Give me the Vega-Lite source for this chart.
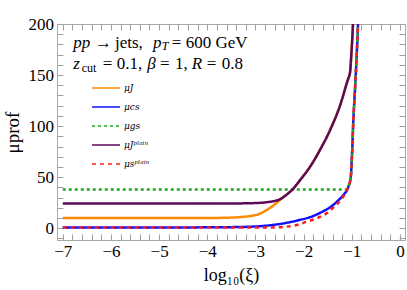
{
  "$schema": "https://vega.github.io/schema/vega-lite/v6.json",
  "width": 348,
  "height": 216,
  "autosize": {"type": "none"},
  "padding": {"left": 57, "top": 24, "right": 2, "bottom": 50},
  "background": "white",
  "config": {
    "view": {"stroke": "#a8a8a8", "strokeWidth": 1},
    "font": "Liberation Serif",
    "text": {"font": "Liberation Serif", "fontSize": 17, "align": "left", "baseline": "alphabetic", "color": "black"},
    "axis": {
      "grid": false,
      "domain": false,
      "ticks": true,
      "tickColor": "#a0a0a0",
      "tickWidth": 1,
      "tickSize": -6,
      "labelFont": "Liberation Serif",
      "labelFontSize": 17,
      "labelColor": "black",
      "titleFont": "Liberation Serif",
      "titleFontWeight": "normal",
      "titleColor": "black"
    }
  },
  "datasets": {
    "curves": [
      {"series": "μJ", "log_xi": -7, "mu": 10},
      {"series": "μJ", "log_xi": -6, "mu": 10},
      {"series": "μJ", "log_xi": -5, "mu": 10},
      {"series": "μJ", "log_xi": -4, "mu": 10.05},
      {"series": "μJ", "log_xi": -3.6, "mu": 10.3},
      {"series": "μJ", "log_xi": -3.3, "mu": 11},
      {"series": "μJ", "log_xi": -3.1, "mu": 12},
      {"series": "μJ", "log_xi": -2.95, "mu": 13.5},
      {"series": "μJ", "log_xi": -2.8, "mu": 17},
      {"series": "μJ", "log_xi": -2.65, "mu": 21.5},
      {"series": "μJ", "log_xi": -2.52, "mu": 26.5},
      {"series": "μJ", "log_xi": -2.45, "mu": 29.5},
      {"series": "μJ", "log_xi": -2.3, "mu": 35},
      {"series": "μJ", "log_xi": -2.23, "mu": 38},
      {"series": "μJ", "log_xi": -2.15, "mu": 42.5},
      {"series": "μJ", "log_xi": -2.07, "mu": 47.3},
      {"series": "μJ", "log_xi": -1.865, "mu": 60.3},
      {"series": "μJ", "log_xi": -1.66, "mu": 76.7},
      {"series": "μJ", "log_xi": -1.45, "mu": 96.2},
      {"series": "μJ", "log_xi": -1.24, "mu": 120.7},
      {"series": "μJ", "log_xi": -1.07, "mu": 146.9},
      {"series": "μJ", "log_xi": -1.05, "mu": 149.5},
      {"series": "μJ", "log_xi": -1.035, "mu": 153},
      {"series": "μJ", "log_xi": -1.008, "mu": 171},
      {"series": "μJ", "log_xi": -0.975, "mu": 200},
      {"series": "μJ", "log_xi": -0.965, "mu": 212},

      {"series": "μcs", "log_xi": -7, "mu": 0.8},
      {"series": "μcs", "log_xi": -5, "mu": 0.8},
      {"series": "μcs", "log_xi": -4, "mu": 0.9},
      {"series": "μcs", "log_xi": -3.5, "mu": 1.1},
      {"series": "μcs", "log_xi": -3.18, "mu": 1.4},
      {"series": "μcs", "log_xi": -2.83, "mu": 2.3},
      {"series": "μcs", "log_xi": -2.49, "mu": 4.2},
      {"series": "μcs", "log_xi": -2.14, "mu": 7.5},
      {"series": "μcs", "log_xi": -1.8, "mu": 12},
      {"series": "μcs", "log_xi": -1.6, "mu": 16.5},
      {"series": "μcs", "log_xi": -1.45, "mu": 20.5},
      {"series": "μcs", "log_xi": -1.31, "mu": 26},
      {"series": "μcs", "log_xi": -1.174, "mu": 32.6},
      {"series": "μcs", "log_xi": -1.07, "mu": 40.7},
      {"series": "μcs", "log_xi": -1.02, "mu": 50.5},
      {"series": "μcs", "log_xi": -0.994, "mu": 73.4},
      {"series": "μcs", "log_xi": -0.967, "mu": 106},
      {"series": "μcs", "log_xi": -0.93, "mu": 138.6},
      {"series": "μcs", "log_xi": -0.896, "mu": 171},
      {"series": "μcs", "log_xi": -0.87, "mu": 200},
      {"series": "μcs", "log_xi": -0.86, "mu": 212},

      {"series": "μgs", "log_xi": -7, "mu": 38},
      {"series": "μgs", "log_xi": -4, "mu": 38},
      {"series": "μgs", "log_xi": -1.12, "mu": 38},
      {"series": "μgs", "log_xi": -1.07, "mu": 40.7},
      {"series": "μgs", "log_xi": -1.02, "mu": 50.5},
      {"series": "μgs", "log_xi": -0.994, "mu": 73.4},
      {"series": "μgs", "log_xi": -0.967, "mu": 106},
      {"series": "μgs", "log_xi": -0.93, "mu": 138.6},
      {"series": "μgs", "log_xi": -0.896, "mu": 171},
      {"series": "μgs", "log_xi": -0.87, "mu": 200},
      {"series": "μgs", "log_xi": -0.86, "mu": 212},

      {"series": "μJᵖˡᵃⁱⁿ", "log_xi": -7, "mu": 24.2},
      {"series": "μJᵖˡᵃⁱⁿ", "log_xi": -5, "mu": 24.2},
      {"series": "μJᵖˡᵃⁱⁿ", "log_xi": -4, "mu": 24.2},
      {"series": "μJᵖˡᵃⁱⁿ", "log_xi": -3.4, "mu": 24.3},
      {"series": "μJᵖˡᵃⁱⁿ", "log_xi": -3.0, "mu": 24.7},
      {"series": "μJᵖˡᵃⁱⁿ", "log_xi": -2.8, "mu": 25.3},
      {"series": "μJᵖˡᵃⁱⁿ", "log_xi": -2.65, "mu": 26.3},
      {"series": "μJᵖˡᵃⁱⁿ", "log_xi": -2.52, "mu": 27.8},
      {"series": "μJᵖˡᵃⁱⁿ", "log_xi": -2.45, "mu": 29.5},
      {"series": "μJᵖˡᵃⁱⁿ", "log_xi": -2.3, "mu": 35},
      {"series": "μJᵖˡᵃⁱⁿ", "log_xi": -2.23, "mu": 38},
      {"series": "μJᵖˡᵃⁱⁿ", "log_xi": -2.15, "mu": 42.5},
      {"series": "μJᵖˡᵃⁱⁿ", "log_xi": -2.07, "mu": 47.3},
      {"series": "μJᵖˡᵃⁱⁿ", "log_xi": -1.865, "mu": 60.3},
      {"series": "μJᵖˡᵃⁱⁿ", "log_xi": -1.66, "mu": 76.7},
      {"series": "μJᵖˡᵃⁱⁿ", "log_xi": -1.45, "mu": 96.2},
      {"series": "μJᵖˡᵃⁱⁿ", "log_xi": -1.24, "mu": 120.7},
      {"series": "μJᵖˡᵃⁱⁿ", "log_xi": -1.07, "mu": 146.9},
      {"series": "μJᵖˡᵃⁱⁿ", "log_xi": -1.05, "mu": 149.5},
      {"series": "μJᵖˡᵃⁱⁿ", "log_xi": -1.035, "mu": 153},
      {"series": "μJᵖˡᵃⁱⁿ", "log_xi": -1.008, "mu": 171},
      {"series": "μJᵖˡᵃⁱⁿ", "log_xi": -0.975, "mu": 200},
      {"series": "μJᵖˡᵃⁱⁿ", "log_xi": -0.965, "mu": 212},

      {"series": "μsᵖˡᵃⁱⁿ", "log_xi": -7, "mu": 0.8},
      {"series": "μsᵖˡᵃⁱⁿ", "log_xi": -5, "mu": 0.8},
      {"series": "μsᵖˡᵃⁱⁿ", "log_xi": -3, "mu": 0.8},
      {"series": "μsᵖˡᵃⁱⁿ", "log_xi": -2.57, "mu": 0.9},
      {"series": "μsᵖˡᵃⁱⁿ", "log_xi": -2.35, "mu": 1.6},
      {"series": "μsᵖˡᵃⁱⁿ", "log_xi": -2.14, "mu": 3.2},
      {"series": "μsᵖˡᵃⁱⁿ", "log_xi": -1.93, "mu": 6.5},
      {"series": "μsᵖˡᵃⁱⁿ", "log_xi": -1.72, "mu": 9.8},
      {"series": "μsᵖˡᵃⁱⁿ", "log_xi": -1.52, "mu": 14.7},
      {"series": "μsᵖˡᵃⁱⁿ", "log_xi": -1.38, "mu": 20.5},
      {"series": "μsᵖˡᵃⁱⁿ", "log_xi": -1.228, "mu": 27.7},
      {"series": "μsᵖˡᵃⁱⁿ", "log_xi": -1.118, "mu": 35.8},
      {"series": "μsᵖˡᵃⁱⁿ", "log_xi": -1.07, "mu": 40.7},
      {"series": "μsᵖˡᵃⁱⁿ", "log_xi": -1.02, "mu": 50.5},
      {"series": "μsᵖˡᵃⁱⁿ", "log_xi": -0.994, "mu": 73.4},
      {"series": "μsᵖˡᵃⁱⁿ", "log_xi": -0.967, "mu": 106},
      {"series": "μsᵖˡᵃⁱⁿ", "log_xi": -0.93, "mu": 138.6},
      {"series": "μsᵖˡᵃⁱⁿ", "log_xi": -0.896, "mu": 171},
      {"series": "μsᵖˡᵃⁱⁿ", "log_xi": -0.87, "mu": 200},
      {"series": "μsᵖˡᵃⁱⁿ", "log_xi": -0.86, "mu": 212}
    ]
  },
  "layer": [
    {
      "data": {"name": "curves"},
      "mark": {"type": "line", "clip": true, "strokeWidth": 2.5, "interpolate": "monotone"},
      "encoding": {
        "x": {
          "field": "log_xi",
          "type": "quantitative",
          "scale": {"domain": [-7.12, 0.105], "nice": false, "zero": false},
          "axis": {
            "orient": "bottom",
            "title": "log₁₀(ξ)",
            "titleFontSize": 18,
            "titlePadding": 7,
            "values": [-7,-6.8,-6.6,-6.4,-6.2,-6,-5.8,-5.6,-5.4,-5.2,-5,-4.8,-4.6,-4.4,-4.2,-4,-3.8,-3.6,-3.4,-3.2,-3,-2.8,-2.6,-2.4,-2.2,-2,-1.8,-1.6,-1.4,-1.2,-1,-0.8,-0.6,-0.4,-0.2,0],
            "labelExpr": "abs(datum.value - round(datum.value)) < 0.001 ? format(datum.value, 'd') : ''",
            "labelPadding": 9,
            "labelFlush": false,
            "labelOverlap": false,
            "encode": {"ticks": {"update": {"y2": {"signal": "abs(datum.value - round(datum.value)) < 0.001 ? -6 : -3.5"}}}}
          }
        },
        "y": {
          "field": "mu",
          "type": "quantitative",
          "scale": {"domain": [-11.5, 200], "nice": false, "zero": false},
          "axis": {
            "orient": "left",
            "title": "μprof",
            "titleFontSize": 19,
            "titlePadding": 6,
            "values": [-10,0,10,20,30,40,50,60,70,80,90,100,110,120,130,140,150,160,170,180,190,200],
            "labelExpr": "datum.value % 50 === 0 ? format(datum.value, 'd') : ''",
            "labelPadding": 9.5,
            "labelFlush": false,
            "labelOverlap": false,
            "encode": {"ticks": {"update": {"x2": {"signal": "datum.value % 50 === 0 ? 6 : 3.5"}}}}
          }
        },
        "color": {
          "field": "series",
          "type": "nominal",
          "scale": {
            "domain": ["μJ", "μcs", "μgs", "μJᵖˡᵃⁱⁿ", "μsᵖˡᵃⁱⁿ"],
            "range": ["#ff8a00", "#1010ff", "#1aaa1a", "#5a0a5a", "#ff1a1a"]
          },
          "legend": {
            "orient": "none",
            "legendX": 34,
            "legendY": 56,
            "title": null,
            "symbolType": "M-1,0H3",
            "symbolSize": 196,
            "symbolStrokeWidth": 1.5,
            "labelFont": "DejaVu Serif",
            "labelFontStyle": "italic",
            "labelFontSize": 9,
            "labelOffset": 17,
            "rowPadding": 6
          }
        },
        "strokeDash": {
          "field": "series",
          "type": "nominal",
          "scale": {
            "domain": ["μJ", "μcs", "μgs", "μJᵖˡᵃⁱⁿ", "μsᵖˡᵃⁱⁿ"],
            "range": [[1, 0], [1, 0], [3, 3], [1, 0], [4, 4]]
          },
          "legend": {
            "orient": "none",
            "legendX": 34,
            "legendY": 56,
            "title": null,
            "symbolType": "M-1,0H3",
            "symbolSize": 196,
            "symbolStrokeWidth": 1.5,
            "labelFont": "DejaVu Serif",
            "labelFontStyle": "italic",
            "labelFontSize": 9,
            "labelOffset": 17,
            "rowPadding": 6
          }
        }
      }
    },
    {
      "data": {"values": [{"block": "annotation"}]},
      "encoding": {
        "x": {
          "datum": -6.782,
          "type": "quantitative",
          "axis": {
            "orient": "top",
            "title": null,
            "labels": false,
            "values": [-7,-6.8,-6.6,-6.4,-6.2,-6,-5.8,-5.6,-5.4,-5.2,-5,-4.8,-4.6,-4.4,-4.2,-4,-3.8,-3.6,-3.4,-3.2,-3,-2.8,-2.6,-2.4,-2.2,-2,-1.8,-1.6,-1.4,-1.2,-1,-0.8,-0.6,-0.4,-0.2,0],
            "encode": {"ticks": {"update": {"y2": {"signal": "abs(datum.value - round(datum.value)) < 0.001 ? 6 : 3.5"}}}}
          }
        },
        "y": {
          "datum": 176.8,
          "type": "quantitative",
          "axis": {
            "orient": "right",
            "title": null,
            "labels": false,
            "values": [-10,0,10,20,30,40,50,60,70,80,90,100,110,120,130,140,150,160,170,180,190,200],
            "encode": {"ticks": {"update": {"x2": {"signal": "datum.value % 50 === 0 ? -6 : -3.5"}}}}
          }
        }
      },
      "layer": [
        {"mark": {"type": "text", "text": "pp", "fontStyle": "italic", "dx": 0}},
        {"mark": {"type": "text", "text": "→", "dx": 21.7}},
        {"mark": {"type": "text", "text": "jets,", "dx": 41.7}},
        {"mark": {"type": "text", "text": "p", "fontStyle": "italic", "dx": 79.7}},
        {"mark": {"type": "text", "text": "T", "fontStyle": "italic", "fontSize": 12, "dx": 88.5, "dy": 2.8}},
        {"mark": {"type": "text", "text": "=", "dx": 98.5}},
        {"mark": {"type": "text", "text": "600 GeV", "dx": 112.5}},
        {"mark": {"type": "text", "text": "z", "fontStyle": "italic", "dx": 0, "dy": 21.6}},
        {"mark": {"type": "text", "text": "cut", "fontSize": 12, "dx": 8.4, "dy": 24.6}},
        {"mark": {"type": "text", "text": "=", "dx": 29.4, "dy": 21.6}},
        {"mark": {"type": "text", "text": "0.1,", "dx": 43.4, "dy": 21.6}},
        {"mark": {"type": "text", "text": "β", "fontStyle": "italic", "dx": 74, "dy": 21.6}},
        {"mark": {"type": "text", "text": "=", "dx": 86.7, "dy": 21.6}},
        {"mark": {"type": "text", "text": "1,", "dx": 101.7, "dy": 21.6}},
        {"mark": {"type": "text", "text": "R", "fontStyle": "italic", "dx": 118.4, "dy": 21.6}},
        {"mark": {"type": "text", "text": "=", "dx": 133.4, "dy": 21.6}},
        {"mark": {"type": "text", "text": "0.8", "dx": 148.4, "dy": 21.6}}
      ]
    }
  ],
  "resolve": {"axis": {"x": "independent", "y": "independent"}}
}
